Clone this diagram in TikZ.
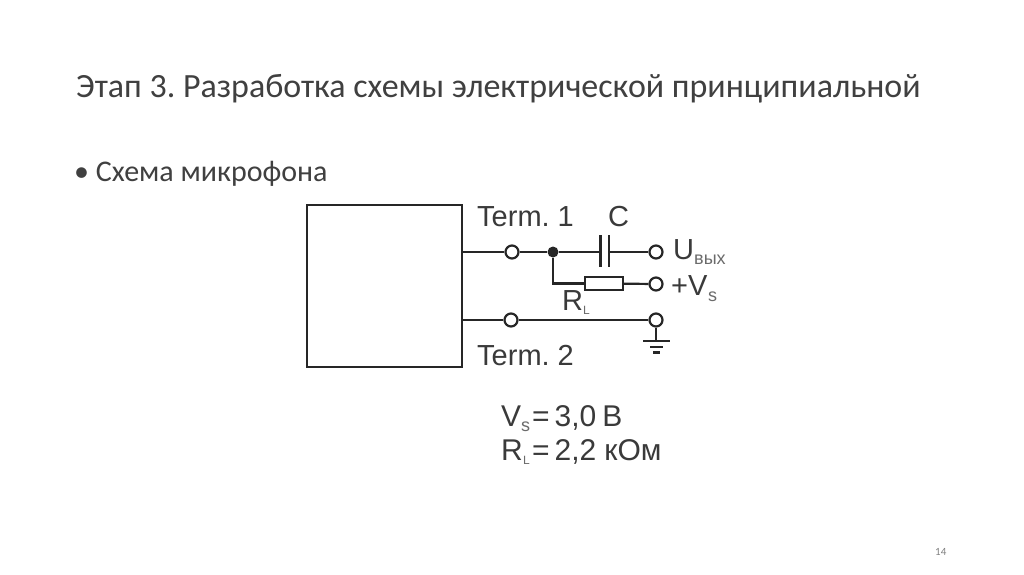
\documentclass[tikz,border=0pt]{standalone}
\usepackage{fontspec}
\setmainfont{Carlito}
\newfontfamily\arialf{Liberation Sans}
\frenchspacing
\definecolor{ink}{HTML}{262626}
\definecolor{titlec}{HTML}{404040}
\definecolor{labelc}{HTML}{3A3A3A}
\tikzset{
  wire/.style={draw=ink,line width=2.2pt},
  term/.style={circle,draw=ink,fill=white,line width=2.2pt,minimum size=13pt,inner sep=0pt},
  junction/.style={circle,fill=ink,minimum size=11pt,inner sep=0pt},
  resbox/.style={rectangle,draw=ink,fill=white,line width=2pt,minimum width=38pt,minimum height=13pt,inner sep=0pt},
  lab/.style={font=\arialf\fontsize{29}{29}\selectfont,text=labelc,inner sep=0pt,anchor=base west},
  val/.style={font=\arialf\fontsize{30}{30}\selectfont,text=labelc,inner sep=0pt,anchor=base west},
  sub/.style={font=\arialf\fontsize{18}{18}\selectfont,text=labelc!75,inner sep=0pt,anchor=base west},
  subsm/.style={font=\arialf\fontsize{12}{12}\selectfont,text=labelc!75,inner sep=0pt,anchor=base west},
  heading/.style={inner sep=0pt,anchor=base west,text=titlec}
}
\begin{document}
\begin{tikzpicture}[x=1pt,y=-1pt]
\useasboundingbox (0,0) rectangle (1024,574);
\fill[white] (0,0) rectangle (1024,574);
\node[heading,font=\fontsize{33.95}{33.95}\selectfont] (title) at (76,97) {Этап 3. Разработка схемы электрической принципиальной};
\node[heading,font=\fontsize{30}{30}\selectfont] (bullet) at (74,181) {• Схема микрофона};
\node[heading,font=\fontsize{11}{11}\selectfont,text=gray] (page) at (935,555) {14};
% box
\node[draw=ink,line width=2.2pt,minimum width=155pt,minimum height=162pt,inner sep=0pt] (mic) at (384.5,286) {};
% anchors
\coordinate (m1) at (462,252);
\coordinate (m2) at (462,320);
\node[term] (t1) at (512,252) {};
\node[junction] (j) at (553,252) {};
\node[term] (o1) at (656,252) {};
\node[term] (o2) at (656,284) {};
\node[term] (t2) at (511,320) {};
\node[term] (o3) at (656,320) {};
\node[resbox] (r) at (604,283.5) {};
\coordinate (c1) at (600.5,252);
\coordinate (c2) at (609,252);
\coordinate (c1t) at (600.5,235);
\coordinate (c1b) at (600.5,267);
\coordinate (c2t) at (609,235);
\coordinate (c2b) at (609,267);
\coordinate (corner) at (553,283.5);
\coordinate (g) at (656,341);
\coordinate (g1l) at (643,341); \coordinate (g1r) at (670,341);
\coordinate (g2l) at (650,347); \coordinate (g2r) at (663,347);
\coordinate (g3l) at (653,352.5); \coordinate (g3r) at (660,352.5);
\draw[wire] (m1) -- (t1);
\draw[wire] (t1) -- (j);
\draw[wire] (j) -- (c1);
\draw[wire] (c2) -- (o1);
\draw[wire] (c1t) -- (c1b);
\draw[wire] (c2t) -- (c2b);
\draw[wire] (j) -- (corner) -- (r);
\draw[wire] (r) -- (o2);
\draw[wire] (m2) -- (t2);
\draw[wire] (t2) -- (o3);
\draw[wire] (o3) -- (g);
\draw[wire] (g1l) -- (g1r);
\draw[wire] (g2l) -- (g2r);
\draw[wire] (g3l) -- (g3r);
% labels
\node[lab] (term1) at (477,226) {Term. 1};
\node[lab] (cap) at (608,226) {C};
\node[lab] (u) at (673,259) {U};
\node[sub] (uv) at (694,264) {вых};
\node[lab] (vs) at (671,295) {+V};
\node[sub] (vss) at (708,301) {s};
\node[lab] (rl) at (562,310) {R};
\node[subsm] (rls) at (583,314) {L};
\node[lab] (term2) at (477,365) {Term. 2};
\node[val] (v) at (501,426) {V};
\node[sub] (vsub) at (521,431) {s};
\node[val] (veq) at (532,426) {=\kern5pt 3,0\kern6pt В};
\node[val] (r2) at (501,460) {R};
\node[subsm] (r2s) at (523,464) {L};
\node[val] (req) at (532,460) {=\kern5pt 2,2\kern8pt кОм};
\end{tikzpicture}
\end{document}
